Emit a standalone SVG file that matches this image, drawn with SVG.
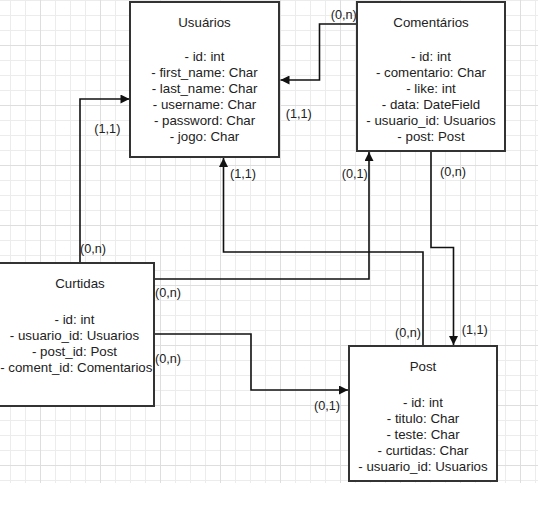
<svg xmlns="http://www.w3.org/2000/svg" width="538" height="514" viewBox="0 0 538 514">
<defs>
<pattern id="grid" patternUnits="userSpaceOnUse" x="40" y="45" width="60" height="60">
<path d="M15.5 0V60M30.5 0V60M45.5 0V60M0 15.5H60M0 30.5H60M0 45.5H60" stroke="#ececec" stroke-width="1" fill="none"/>
<path d="M0.5 0V60M0 0.5H60" stroke="#dedede" stroke-width="1" fill="none"/>
</pattern>
<marker id="arr" viewBox="0 0 10 10" refX="10" refY="5" markerWidth="11" markerHeight="9" markerUnits="userSpaceOnUse" orient="auto">
<path d="M0 0L10 5L0 10z" fill="#111"/>
</marker>
<style>
.box{fill:#fff;stroke:#333;stroke-width:2}
.t{font-family:"Liberation Sans",Arial,sans-serif;font-size:13.3px;fill:#222;text-anchor:middle}
.lbl{font-family:"Liberation Sans",Arial,sans-serif;font-size:12.7px;fill:#222}
.edge{fill:none;stroke:#111;stroke-width:1.6;marker-end:url(#arr)}
</style>
</defs>
<rect x="0" y="0" width="538" height="483" fill="url(#grid)"/>

<g id="connectors">
<path class="edge" d="M357 24H319.5V80H280.5"/>
<path class="edge" d="M80 263V99H129.5"/>
<path class="edge" d="M154 279H369V152"/>
<path class="edge" d="M423 346V252H223.5V158"/>
<path class="edge" d="M431 151V247.5H453.5V345"/>
<path class="edge" d="M154 334H251V390H348"/>
<text class="lbl" x="330.7" y="19">(0,n)</text>
<text class="lbl" x="285.7" y="118">(1,1)</text>
<text class="lbl" x="94.3" y="133">(1,1)</text>
<text class="lbl" x="80" y="252.7">(0,n)</text>
<text class="lbl" x="341.7" y="177.7">(0,1)</text>
<text class="lbl" x="155" y="297">(0,n)</text>
<text class="lbl" x="230" y="177.7">(1,1)</text>
<text class="lbl" x="395" y="337.3">(0,n)</text>
<text class="lbl" x="461.7" y="334.3">(1,1)</text>
<text class="lbl" x="440" y="176">(0,n)</text>
<text class="lbl" x="155" y="363.3">(0,n)</text>
<text class="lbl" x="314" y="410">(0,1)</text>
</g>

<g id="usuarios">
<rect class="box" x="130" y="2" width="149" height="155"/>
<text class="t" x="204.5" y="26.7">Usuários</text>
<text class="t" x="204.5" y="61">- id: int</text>
<text class="t" x="204.5" y="77">- first_name: Char</text>
<text class="t" x="204.5" y="93">- last_name: Char</text>
<text class="t" x="204.5" y="109">- username: Char</text>
<text class="t" x="204.5" y="125">- password: Char</text>
<text class="t" x="204.5" y="141">- jogo: Char</text>
</g>

<g id="comentarios">
<rect class="box" x="357" y="2" width="148" height="149"/>
<text class="t" x="431" y="26.7">Comentários</text>
<text class="t" x="431" y="61">- id: int</text>
<text class="t" x="431" y="77">- comentario: Char</text>
<text class="t" x="431" y="93">- like: int</text>
<text class="t" x="431" y="109">- data: DateField</text>
<text class="t" x="431" y="125">- usuario_id: Usuarios</text>
<text class="t" x="431" y="141">- post: Post</text>
</g>

<g id="curtidas">
<rect class="box" x="-3" y="263" width="157" height="143"/>
<text class="t" x="80" y="288.3">Curtidas</text>
<text class="t" x="74.5" y="324">- id: int</text>
<text class="t" x="74.5" y="340">- usuario_id: Usuarios</text>
<text class="t" x="74.5" y="356">- post_id: Post</text>
<text class="t" x="76.3" y="372">- coment_id: Comentarios</text>
</g>

<g id="post">
<rect class="box" x="349" y="346" width="148" height="135"/>
<text class="t" x="423" y="371">Post</text>
<text class="t" x="423" y="406.7">- id: int</text>
<text class="t" x="423" y="422.7">- titulo: Char</text>
<text class="t" x="423" y="438.7">- teste: Char</text>
<text class="t" x="423" y="454.7">- curtidas: Char</text>
<text class="t" x="423" y="470.7">- usuario_id: Usuarios</text>
</g>
</svg>
